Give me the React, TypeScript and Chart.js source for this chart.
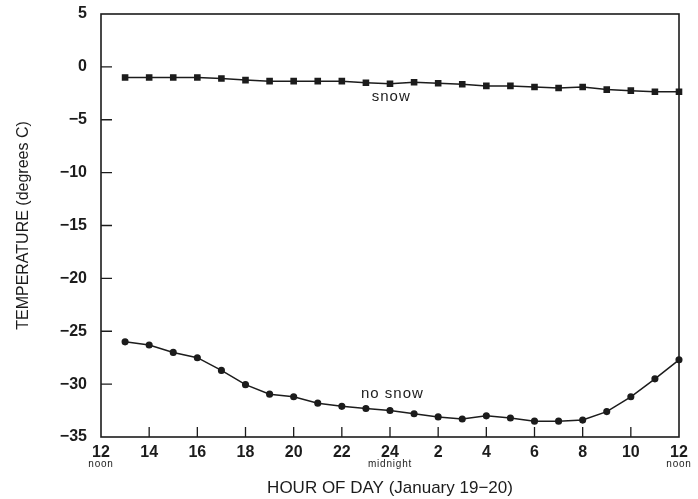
import React, { useEffect, useRef } from "react";
import { Chart, registerables } from "chart.js";

Chart.register(...registerables);

// hour of day (13 = 1 pm Jan 19 ... 36 = noon Jan 20)
const hours = [13, 14, 15, 16, 17, 18, 19, 20, 21, 22, 23, 24, 25, 26, 27, 28, 29, 30, 31, 32, 33, 34, 35, 36];
const snowTemps = [-1.0, -1.0, -1.0, -1.0, -1.1, -1.25, -1.35, -1.35, -1.35, -1.35, -1.5, -1.6, -1.45, -1.55, -1.65, -1.8, -1.8, -1.9, -2.0, -1.9, -2.15, -2.25, -2.35, -2.35];
const noSnowTemps = [-26.0, -26.3, -27.0, -27.5, -28.7, -30.05, -30.95, -31.2, -31.8, -32.1, -32.3, -32.5, -32.8, -33.1, -33.3, -33.0, -33.2, -33.5, -33.5, -33.4, -32.6, -31.2, -29.5, -27.7];

const xTickValues = [12, 14, 16, 18, 20, 22, 24, 26, 28, 30, 32, 34, 36];
const xTickLabels = ["12", "14", "16", "18", "20", "22", "24", "2", "4", "6", "8", "10", "12"];
const xSubLabels: [number, string][] = [[12, "noon"], [24, "midnight"], [36, "noon"]];
const yTickValues = [5, 0, -5, -10, -15, -20, -25, -30, -35];
const seriesLabels: [number, number, string][] = [[24.05, -2.8, "snow"], [24.1, -30.9, "no snow"]];

const INK = "#1c1c1c";
const FONT = "'Liberation Sans', Arial, sans-serif";

const framePlugin = {
  id: "frame",
  afterDraw(chart: any) {
    const { ctx, chartArea: a, scales } = chart;
    const xs = scales.x;
    const ys = scales.y;
    ctx.save();
    ctx.strokeStyle = INK;
    ctx.lineWidth = 1.6;
    ctx.strokeRect(a.left, a.top, a.right - a.left, a.bottom - a.top);
    ctx.lineWidth = 1.3;
    ctx.beginPath();
    for (const v of yTickValues) {
      if (v >= 5 || v <= -35) continue;
      const y = ys.getPixelForValue(v);
      ctx.moveTo(a.left, y);
      ctx.lineTo(a.left + 11, y);
    }
    for (const v of xTickValues) {
      if (v <= 12 || v >= 36) continue;
      const x = xs.getPixelForValue(v);
      ctx.moveTo(x, a.bottom);
      ctx.lineTo(x, a.bottom - 10);
    }
    ctx.stroke();
    ctx.fillStyle = INK;
    ctx.textAlign = "center";
    ctx.textBaseline = "middle";
    ctx.font = `10px ${FONT}`;
    try { ctx.letterSpacing = "0.8px"; } catch (e) {}
    for (const [v, t] of xSubLabels) {
      ctx.fillText(t, xs.getPixelForValue(v), a.bottom + 27);
    }
    ctx.font = `15px ${FONT}`;
    try { ctx.letterSpacing = "1px"; } catch (e) {}
    for (const [hx, ty, t] of seriesLabels) {
      ctx.fillText(t, xs.getPixelForValue(hx), ys.getPixelForValue(ty));
    }
    ctx.restore();
  },
};

export default function App() {
  const ref = useRef<HTMLCanvasElement>(null);
  useEffect(() => {
    const canvas = ref.current!;
    const chart = new Chart(canvas, {
      type: "line",
      data: {
        datasets: [
          {
            label: "snow",
            data: hours.map((h, i) => ({ x: h, y: snowTemps[i] })),
            borderColor: INK,
            backgroundColor: INK,
            borderWidth: 1.5,
            pointStyle: "rect",
            pointRadius: 3.6,
            tension: 0,
            clip: false,
          },
          {
            label: "no snow",
            data: hours.map((h, i) => ({ x: h, y: noSnowTemps[i] })),
            borderColor: INK,
            backgroundColor: INK,
            borderWidth: 1.5,
            pointStyle: "circle",
            pointRadius: 2.8,
            tension: 0,
            clip: false,
          },
        ],
      },
      options: {
        responsive: false,
        animation: false,
        layout: { padding: { top: 14, right: 19, left: 0, bottom: 0 } },
        plugins: { legend: { display: false }, tooltip: { enabled: false } },
        scales: {
          x: {
            type: "linear",
            min: 12,
            max: 36,
            afterFit: (s: any) => { s.height = 62; s.paddingLeft = 0; s.paddingRight = 0; },
            afterBuildTicks: (s: any) => { s.ticks = xTickValues.map((v) => ({ value: v })); },
            grid: { display: false, drawTicks: false },
            border: { display: false },
            ticks: {
              padding: 6,
              color: INK,
              font: { family: FONT, size: 16, weight: "bold" },
              maxRotation: 0,
              autoSkip: false,
              callback: (v: any) => {
                const i = xTickValues.indexOf(Number(v));
                return i >= 0 ? xTickLabels[i] : "";
              },
            },
            title: {
              display: true,
              text: "HOUR OF DAY (January 19\u221220)",
              color: INK,
              font: { family: FONT, size: 17 },
              padding: { top: 0, bottom: 0 },
            },
          },
          y: {
            min: -35,
            max: 5,
            afterFit: (s: any) => { s.width = 101; s.paddingTop = 0; s.paddingBottom = 0; },
            afterBuildTicks: (s: any) => { s.ticks = yTickValues.map((v) => ({ value: v })); },
            grid: { display: false, drawTicks: false },
            border: { display: false },
            ticks: {
              padding: 14,
              color: INK,
              font: { family: FONT, size: 16, weight: "bold" },
              callback: (v: any) => {
                const n = Number(v);
                return n < 0 ? "\u2212" + Math.abs(n) : String(n);
              },
            },
            title: {
              display: true,
              text: "TEMPERATURE (degrees C)",
              color: INK,
              font: { family: FONT, size: 16 },
              padding: { top: 14, bottom: 0 },
            },
          },
        },
      },
      plugins: [framePlugin],
    });
    return () => chart.destroy();
  }, []);
  return (
    <canvas
      ref={ref}
      width={698}
      height={499}
      style={{ position: "absolute", left: 0, top: 0, width: 698, height: 499, background: "#fff" }}
    />
  );
}
